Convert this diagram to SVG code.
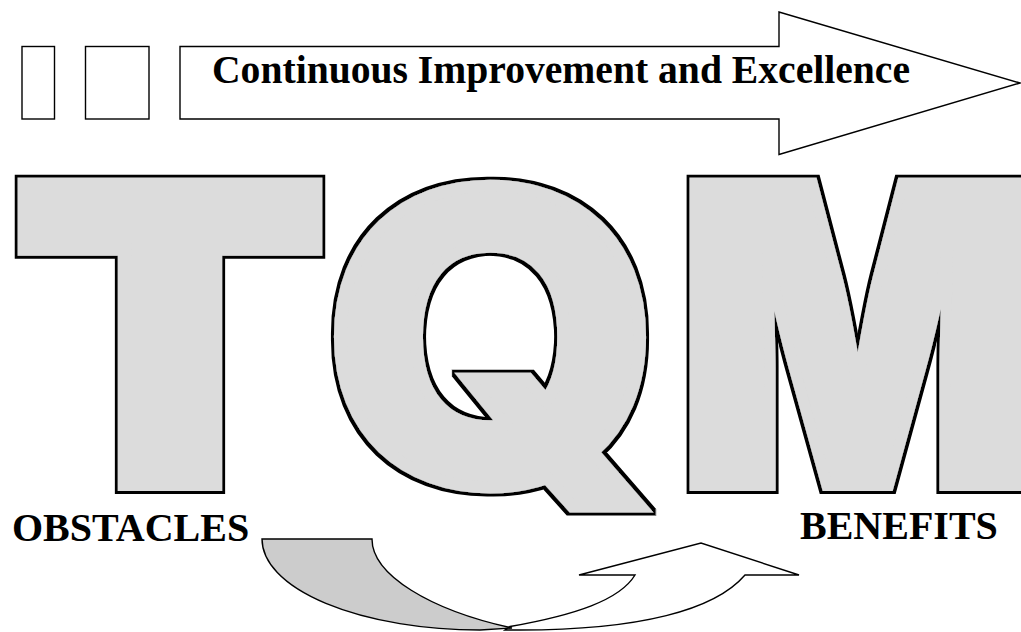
<svg xmlns="http://www.w3.org/2000/svg" width="1021" height="632" viewBox="0 0 1021 632">
  <style>
    .frame { fill: #ffffff; stroke: #000000; stroke-width: 1.4; stroke-linejoin: miter; }
    .lbl { font-family: "Liberation Serif", "Times New Roman", serif; font-weight: bold; font-size: 40px; fill: #000000; }
    .big { font-family: Inter, "Liberation Sans", Arial, sans-serif; font-weight: 900; font-size: 414px; fill: #dcdcdc; stroke: #dcdcdc; stroke-width: 12px; stroke-linejoin: miter; stroke-miterlimit: 4; filter: url(#outline); }
    .flow { stroke: #000000; stroke-width: 1.4; stroke-linejoin: miter; }
  </style>
  <defs>
    <filter id="outline" x="-20%" y="-20%" width="140%" height="140%">
      <feMorphology in="SourceAlpha" operator="dilate" radius="2.8" result="d"/>
      <feFlood flood-color="#000000" result="k"/>
      <feComposite in="k" in2="d" operator="in" result="ring"/>
      <feMerge>
        <feMergeNode in="ring"/>
        <feMergeNode in="SourceGraphic"/>
      </feMerge>
    </filter>
  </defs>
  <rect width="1021" height="632" fill="#ffffff"/>

  <g id="box-1"><rect class="frame" x="22" y="46.5" width="32.5" height="72.5"/></g>
  <g id="box-2"><rect class="frame" x="85.5" y="46.5" width="63.5" height="72.5"/></g>

  <g id="banner">
    <polygon class="frame" points="180,46.5 779,46.5 779,12 1020,83 779,154.5 779,119 180,119"/>
    <text class="lbl" x="212" y="83" textLength="698" lengthAdjust="spacingAndGlyphs">Continuous Improvement and Excellence</text>
  </g>

  <g id="tqm">
    <g id="letter-T"><text class="big" transform="translate(170,485) scale(1.113,1)" text-anchor="middle">T</text></g>
    <g id="letter-Q"><text class="big" transform="translate(492,483.5) scale(1.07,1)" text-anchor="middle" style="font-weight:800;font-size:404px">Q</text></g>
    <g id="letter-M"><text class="big" transform="translate(857.5,485) scale(0.91,1)" text-anchor="middle">M</text></g>
  </g>

  <g id="label-obstacles"><text class="lbl" x="12" y="541">OBSTACLES</text></g>
  <g id="label-benefits"><text class="lbl" x="800" y="539">BENEFITS</text></g>

  <g id="connectors">
    <path class="flow" fill="#ffffff" d="M510,626.5 C575,615 620,600 635,575 L579,575 L701,543 L799,575 L745,575 C715,610 640,630 520,630 L505,630 Z"/>
    <path class="flow" fill="#cccccc" d="M262,539 L372,539 C372,575 430,610 512,628 L480,630 A218,91 0 0 1 262,539 Z"/>
  </g>
</svg>
